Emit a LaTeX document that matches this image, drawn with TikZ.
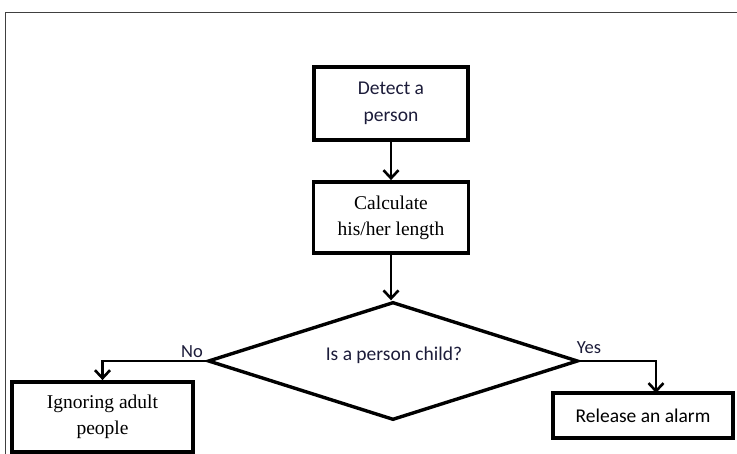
\documentclass[tikz,border=0pt]{standalone}
\usepackage{fontspec}
\setmainfont{Liberation Serif}
\newfontfamily\calib{Carlito}
\usetikzlibrary{arrows.meta,shapes.geometric}
\definecolor{navy}{HTML}{1C1C3A}
\definecolor{framegray}{HTML}{404040}
\begin{document}
\begin{tikzpicture}[x=1pt,y=-1pt,
  box/.style={draw=black,line width=3.8pt,rectangle,inner sep=0pt,align=center,font=\fontsize{19.5}{26}\selectfont},
  sansbox/.style={box,font=\calib\fontsize{19.5}{27}\selectfont},
  decision/.style={draw=black,line width=3.4pt,diamond,inner sep=0pt,minimum width=370pt,minimum height=118pt},
  conn/.style={line width=2.6pt,-{Straight Barb[length=8pt,width=15pt]}},
  lbl/.style={font=\calib\fontsize{18.5}{20}\selectfont,text=navy,inner sep=0pt}]
\useasboundingbox (0,0) rectangle (737,454);
\fill[white] (0,0) rectangle (737,454);
\draw[framegray,line width=1.5pt] (5.5,460) -- (5.5,12.5) -- (745,12.5);
\node[sansbox,text=navy,minimum width=154pt,minimum height=73pt] (detect) at (391,103.5) {Detect a\\person};
\node[box,minimum width=155pt,minimum height=71pt] (calc) at (391,217.5) {Calculate\\his/her length};
\node[decision] (dec) at (393,361) {};
\node[font=\calib\fontsize{19.5}{24}\selectfont,text=navy] (dectext) at (394,355) {Is a person child?};
\node[box,minimum width=181pt,minimum height=70pt] (ignore) at (102.5,417) {Ignoring adult\\people};
\node[sansbox,minimum width=180pt,minimum height=45pt] (alarm) at (643,415.5) {Release an alarm};
\coordinate (alarmin) at (656,393);
\draw[conn] (detect.south) -- (calc.north);
\draw[conn] (calc.south) -- (calc.south |- dec.north);
\draw[conn] (dec.west) -| (ignore.north);
\draw[conn] (dec.east) -| (alarmin);
\node[lbl,anchor=base] (no) at (192,358) {No};
\node[lbl,anchor=base] (yes) at (589,354) {Yes};
\end{tikzpicture}
\end{document}
